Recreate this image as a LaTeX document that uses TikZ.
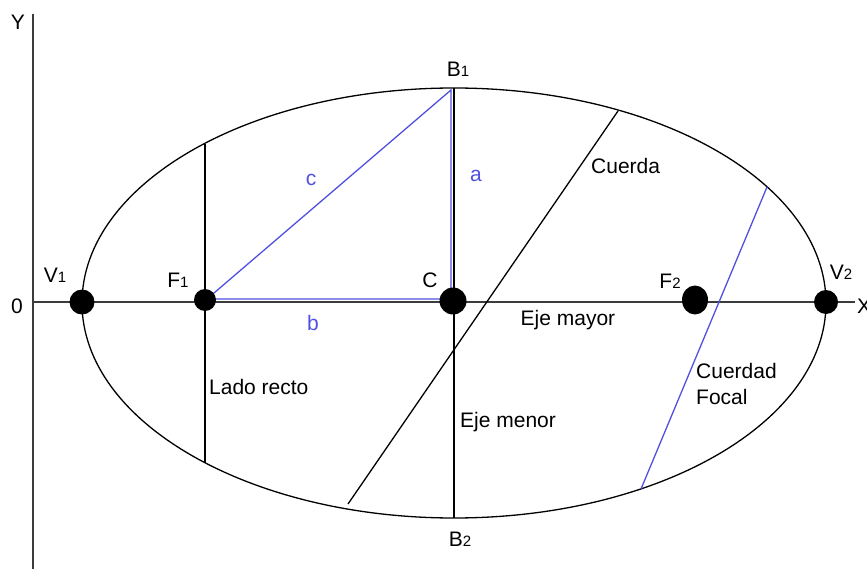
\documentclass[tikz,border=0pt]{standalone}
\usepackage{fontspec}
\usetikzlibrary{shapes.geometric}
\setmainfont{Liberation Sans}
\newcommand{\sbn}[1]{{\fontsize{15}{15}\selectfont #1}}
\definecolor{lblue}{RGB}{80,80,225}
\definecolor{axisgray}{RGB}{60,60,60}
\tikzset{
  lbl/.style={font=\fontsize{21}{26}\selectfont, text=black, inner sep=0pt},
  blbl/.style={lbl, text=lblue},
  dot/.style={circle, fill=black, inner sep=0pt, minimum size=#1},
  axisline/.style={draw=axisgray, line width=1.8pt},
  thin/.style={draw=black, line width=1.3pt},
  bline/.style={draw=lblue, line width=1.3pt}
}
\begin{document}
\begin{tikzpicture}[x=1pt,y=-1pt]
\useasboundingbox (0,0) rectangle (867,569);
% axes
\coordinate (ytop) at (33,14);
\coordinate (ybot) at (33,569);
\coordinate (xl) at (33,302);
\coordinate (xr) at (855,302);
\draw[axisline] (ytop) -- (ybot);
\draw[axisline] (xl) -- (xr);
% ellipse
\coordinate (O) at (454,303);
\draw[thin] (O) ellipse [x radius=372, y radius=215];
% key points
\coordinate (B1) at (454,88);
\coordinate (B2) at (454,518);
\coordinate (LRt) at (205,144);
\coordinate (LRb) at (205,463);
\coordinate (CHt) at (618,111);
\coordinate (CHb) at (348,504);
\coordinate (FCt) at (767,187);
\coordinate (FCb) at (641,489);
\coordinate (bB1) at (451,90);
\coordinate (bC) at (451,299);
\coordinate (bF1) at (207,299);
% lines
\draw[thin] (B1) -- (B2);
\draw[thin] (LRt) -- (LRb);
\draw[thin] (CHt) -- (CHb);
\draw[bline] (FCt) -- (FCb);
\draw[bline] (bF1) -- (bB1) -- (bC) -- (bF1);
% dots
\node[dot=25pt] (V1) at (82,302) {};
\node[dot=22pt] (F1) at (205,300) {};
\node[dot=27pt] (C) at (453,301) {};
\node[ellipse, fill=black, inner sep=0pt, minimum width=26pt, minimum height=29pt] (F2) at (695,300) {};
\node[dot=24pt] (V2) at (826,302) {};
% labels
\node[lbl] (tY) at (18,22) {Y};
\node[lbl] (t0) at (17,306) {0};
\node[lbl, anchor=west] (tX) at (857,306) {X};
\node[lbl] (tV1) at (55,275) {V\sbn{1}};
\node[lbl] (tF1) at (178,280) {F\sbn{1}};
\node[lbl] (tC) at (430,280) {C};
\node[lbl] (tF2) at (670,281) {F\sbn{2}};
\node[lbl] (tV2) at (841,272) {V\sbn{2}};
\node[lbl] (tB1) at (458,69) {B\sbn{1}};
\node[lbl] (tB2) at (460,539) {B\sbn{2}};
\node[blbl] (ta) at (476,176) {a};
\node[blbl] (tb) at (313,323) {b};
\node[blbl] (tc) at (311,180) {c};
\node[lbl] (tEM) at (568,320) {Eje mayor};
\node[lbl, anchor=west] (tLR) at (209,387) {Lado recto};
\node[lbl, anchor=west] (tEm) at (460,422) {Eje menor};
\node[lbl, anchor=west] (tCu) at (591,166) {Cuerda};
\node[lbl, anchor=west, align=left] (tCF) at (696,384) {Cuerdad\\Focal};
\end{tikzpicture}
\end{document}
